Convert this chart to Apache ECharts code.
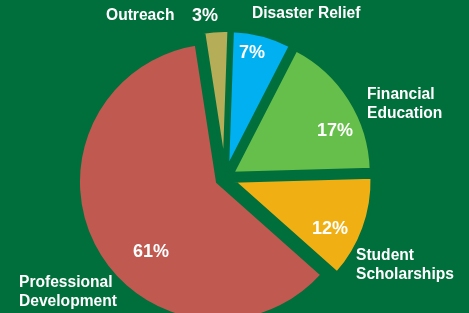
<!DOCTYPE html>
<html>
<head>
<meta charset="utf-8">
<script src="https://cdn.jsdelivr.net/npm/echarts@6/dist/echarts.min.js"></script>
<style>
html, body { margin: 0; padding: 0; background: #006f3c; }
#main { width: 469px; height: 313px; }
</style>
</head>
<body>
<div id="main"></div>
<script>
const categories = ['Disaster Relief', 'Financial Education', 'Student Scholarships', 'Professional Development', 'Outreach']
const shares = [7, 17, 12, 61, 3]
const colors = ['#00b0f0', '#66bf4a', '#f0b014', '#c0594f', '#b5ad58']
const wrapped = ['Financial Education', 'Student Scholarships', 'Professional Development']

const bg = '#006f3c'
const font = 'Liberation Sans, Arial, sans-serif'

// label spots
const namePos = {
  'Disaster Relief': [252, 14],
  'Financial Education': [367, 104],
  'Student Scholarships': [356, 265],
  'Professional Development': [19, 292],
  'Outreach': [106, 16]
}
const pctPos = {
  'Disaster Relief': [252, 53],
  'Financial Education': [335, 131],
  'Student Scholarships': [330, 229],
  'Professional Development': [151, 252],
  'Outreach': [205, 16]
}

const chart = echarts.init(document.getElementById('main'), null, { renderer: 'canvas' })

const pieBase = {
  type: 'pie',
  center: [225, 178],
  radius: 140,
  startAngle: 88,
  clockwise: true,
  avoidLabelOverlap: false,
  labelLine: { show: false },
  emphasis: { disabled: true },
  animation: false
}

// transparent copy of the pie that only carries a set of labels
function labelSeries(formatter, size, align, spots) {
  return {
    ...pieBase,
    silent: true,
    itemStyle: { color: 'transparent', borderWidth: 0 },
    data: categories.map((name, i) => ({ name, value: shares[i] })),
    label: {
      show: true,
      position: 'outside',
      formatter,
      color: '#fff',
      fontSize: size,
      lineHeight: 19,
      fontWeight: 'bold',
      fontFamily: font
    },
    labelLayout: p => {
      const pos = spots[categories[p.dataIndex]]
      return { x: pos[0], y: pos[1], align, verticalAlign: 'middle' }
    }
  }
}

chart.setOption({
  backgroundColor: bg,
  series: [
    {
      ...pieBase,
      selectedMode: 'multiple',
      selectedOffset: 8,
      itemStyle: { borderColor: bg, borderWidth: 4 },
      label: { show: false },
      data: categories.map((name, i) => ({
        name,
        value: shares[i],
        selected: true,
        itemStyle: { color: colors[i] }
      }))
    },
    labelSeries(p => wrapped.includes(p.name) ? p.name.replace(' ', '\n') : p.name, 15.6, 'left', namePos),
    labelSeries(p => p.value + '%', 18, 'center', pctPos)
  ]
})
</script>
</body>
</html>
